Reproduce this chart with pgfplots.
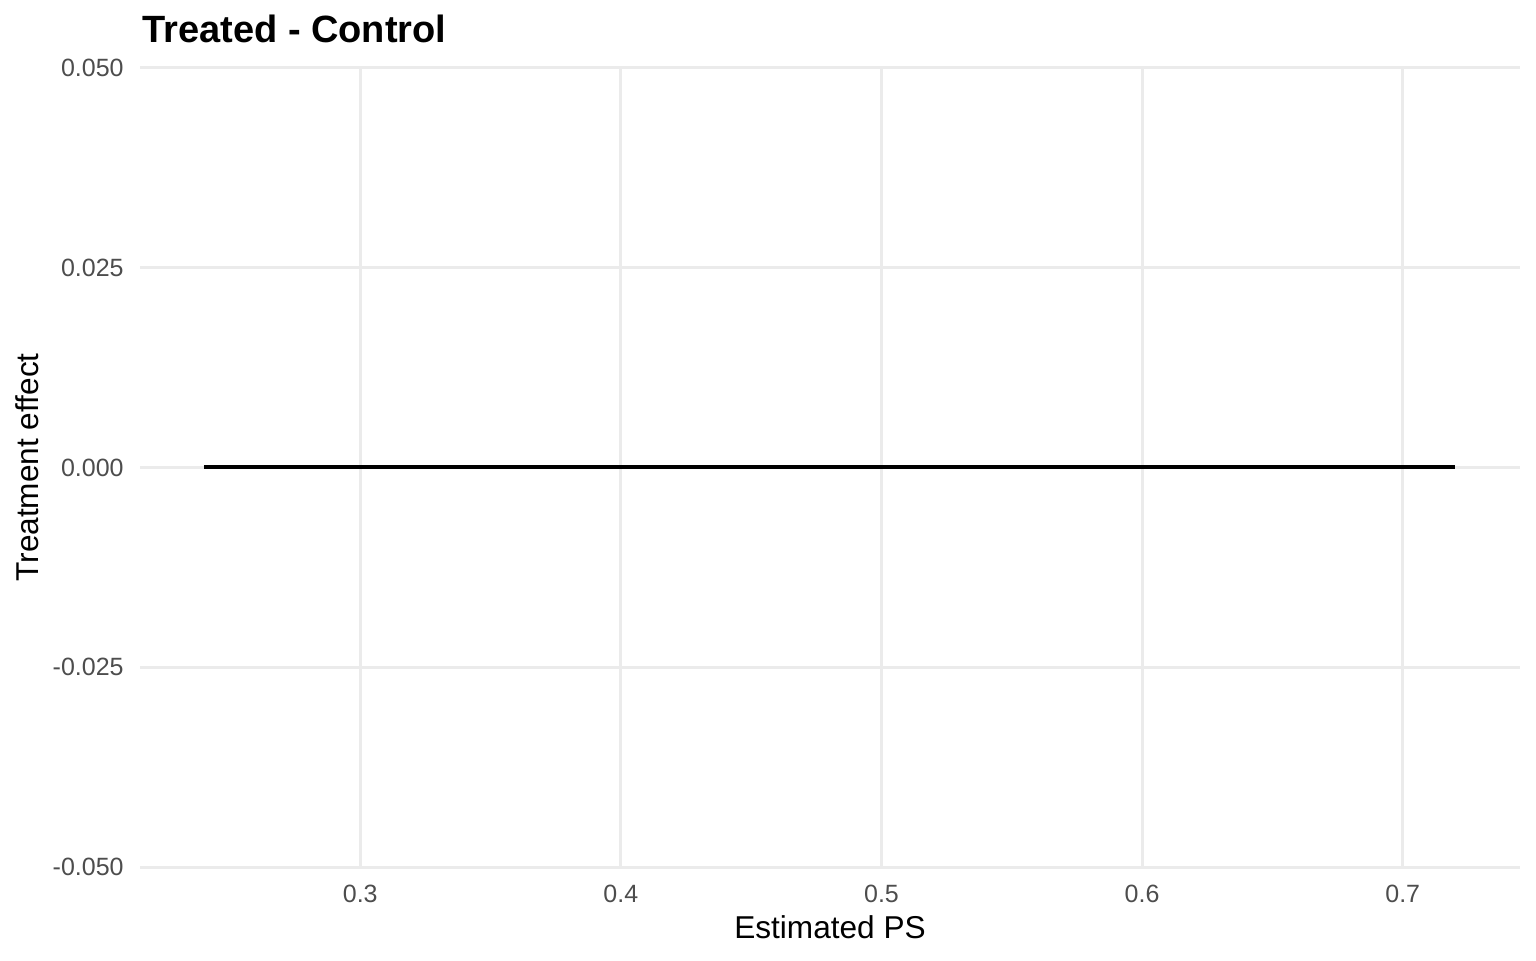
\documentclass[border=0pt]{standalone}
\usepackage{pgfplots}
\pgfplotsset{compat=1.18}
\usepackage{fontspec}
\setmainfont{Liberation Sans}
\definecolor{gridgray}{HTML}{EBEBEB}
\definecolor{tickgray}{HTML}{4D4D4D}
\begin{document}
\begin{tikzpicture}[x=1pt,y=1pt]
\useasboundingbox (0,0) rectangle (768,480);
\begin{axis}[
  at={(70pt,46.5pt)}, anchor=south west,
  scale only axis, width=690pt, height=399.5pt,
  xmin=0.2155, xmax=0.745, ymin=-0.05, ymax=0.05,
  clip=false,
  scaled y ticks=false, scaled x ticks=false,
  axis line style={draw=none},
  major tick length=0pt,
  grid=major,
  grid style={gridgray, line width=1.5pt},
  xtick={0.3,0.4,0.5,0.6,0.7},
  xticklabels={0.3,0.4,0.5,0.6,0.7},
  ytick={-0.05,-0.025,0,0.025,0.05},
  yticklabels={-0.050,-0.025,0.000,0.025,0.050},
  xticklabel style={font=\fontsize{12.5}{14}\selectfont, text=tickgray, anchor=base, yshift=-17.5pt},
  yticklabel style={font=\fontsize{12.5}{14}\selectfont, text=tickgray, anchor=east, inner sep=0pt, xshift=-8pt},
  xlabel={Estimated PS},
  ylabel={Treatment effect},
  xlabel style={font=\fontsize{15.8}{18}\selectfont, at={(axis description cs:0.5,-0.0889)}, anchor=base},
  ylabel style={font=\fontsize{15.8}{18}\selectfont, at={(axis description cs:-0.0739,0.5)}, anchor=base},
  title={Treated - Control},
  title style={font=\fontsize{19}{22}\selectfont\bfseries, at={(axis description cs:0.00145,1.0313)}, anchor=base west, inner sep=0pt, yshift=0pt},
  every axis title shift=0pt,
]
\addplot[black, line width=2pt, line cap=butt] coordinates {(0.24,0) (0.72,0)};
\end{axis}
\end{tikzpicture}
\end{document}
